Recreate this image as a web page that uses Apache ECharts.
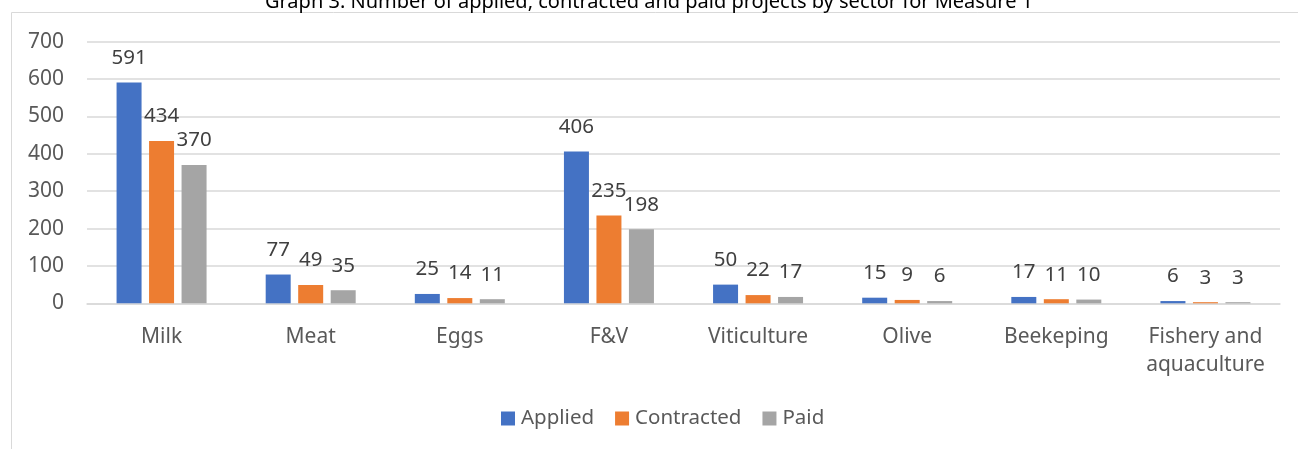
<!DOCTYPE html>
<html>
<head>
<meta charset="utf-8">
<script src="https://cdn.jsdelivr.net/npm/echarts@6/dist/echarts.min.js"></script>
<style>
  html, body { margin: 0; padding: 0; background: #fff; }
  #chart { width: 1298px; height: 449px; }
</style>
</head>
<body>
<div id="chart"></div>
<script>
const sectors = ['Milk', 'Meat', 'Eggs', 'F&V', 'Viticulture', 'Olive', 'Beekeping', 'Fishery and aquaculture'];
const applied = [591, 77, 25, 406, 50, 15, 17, 6];
const contracted = [434, 49, 14, 235, 22, 9, 11, 3];
const paid = [370, 35, 11, 198, 17, 6, 10, 3];
const yTicks = [0, 100, 200, 300, 400, 500, 600, 700];

const FONT = 'Noto Sans';

function barSeries(name, data, color) {
    return {
        name: name,
        type: 'bar',
        data: data,
        barWidth: 25,
        barGap: '30%',
        itemStyle: { color: color },
        label: {
            show: true,
            position: 'top',
            distance: 14,
            fontFamily: FONT,
            fontSize: 20.5,
            color: '#404040'
        }
    };
}

const chart = echarts.init(document.getElementById('chart'));
chart.setOption({
    animation: false,
    textStyle: { fontFamily: FONT },
    graphic: [{
        type: 'rect',
        shape: { x: 11.5, y: 12.5, width: 1400, height: 500 },
        style: { fill: 'none', stroke: '#d9d9d9', lineWidth: 1 },
        silent: true,
        z: -1
    }],
    title: {
        text: 'Graph 3: Number of applied, contracted and paid projects by sector for Measure 1',
        left: 'center',
        top: -13,
        textStyle: { fontFamily: FONT, fontSize: 20, fontWeight: 'normal', color: '#000' }
    },
    legend: {
        bottom: 15,
        left: 496,
        itemWidth: 14,
        itemHeight: 14,
        itemGap: 21,
        icon: 'rect',
        textStyle: { fontFamily: FONT, fontSize: 20.5, color: '#595959', padding: [0, 0, 0, 1] },
        data: ['Applied', 'Contracted', 'Paid']
    },
    grid: { left: 87, right: 18, top: 41.7, bottom: 145.7, containLabel: false },
    xAxis: {
        type: 'category',
        data: sectors,
        axisLine: { lineStyle: { color: '#d9d9d9', width: 1.5 } },
        axisTick: { show: false },
        axisLabel: {
            interval: 0,
            margin: 20,
            fontFamily: FONT,
            fontSize: 21,
            lineHeight: 28,
            color: '#595959',
            formatter: v => v.replace('Fishery and ', 'Fishery and\n')
        }
    },
    yAxis: {
        type: 'value',
        min: yTicks[0],
        max: yTicks[yTicks.length - 1],
        interval: 100,
        axisLine: { show: false },
        axisTick: { show: false },
        splitLine: { lineStyle: { color: '#d9d9d9', width: 1.5 } },
        axisLabel: { margin: 23, fontFamily: FONT, fontSize: 21, color: '#595959' }
    },
    series: [
        barSeries('Applied', applied, '#4472C4'),
        barSeries('Contracted', contracted, '#ED7D31'),
        barSeries('Paid', paid, '#A5A5A5')
    ]
});
</script>
</body>
</html>
